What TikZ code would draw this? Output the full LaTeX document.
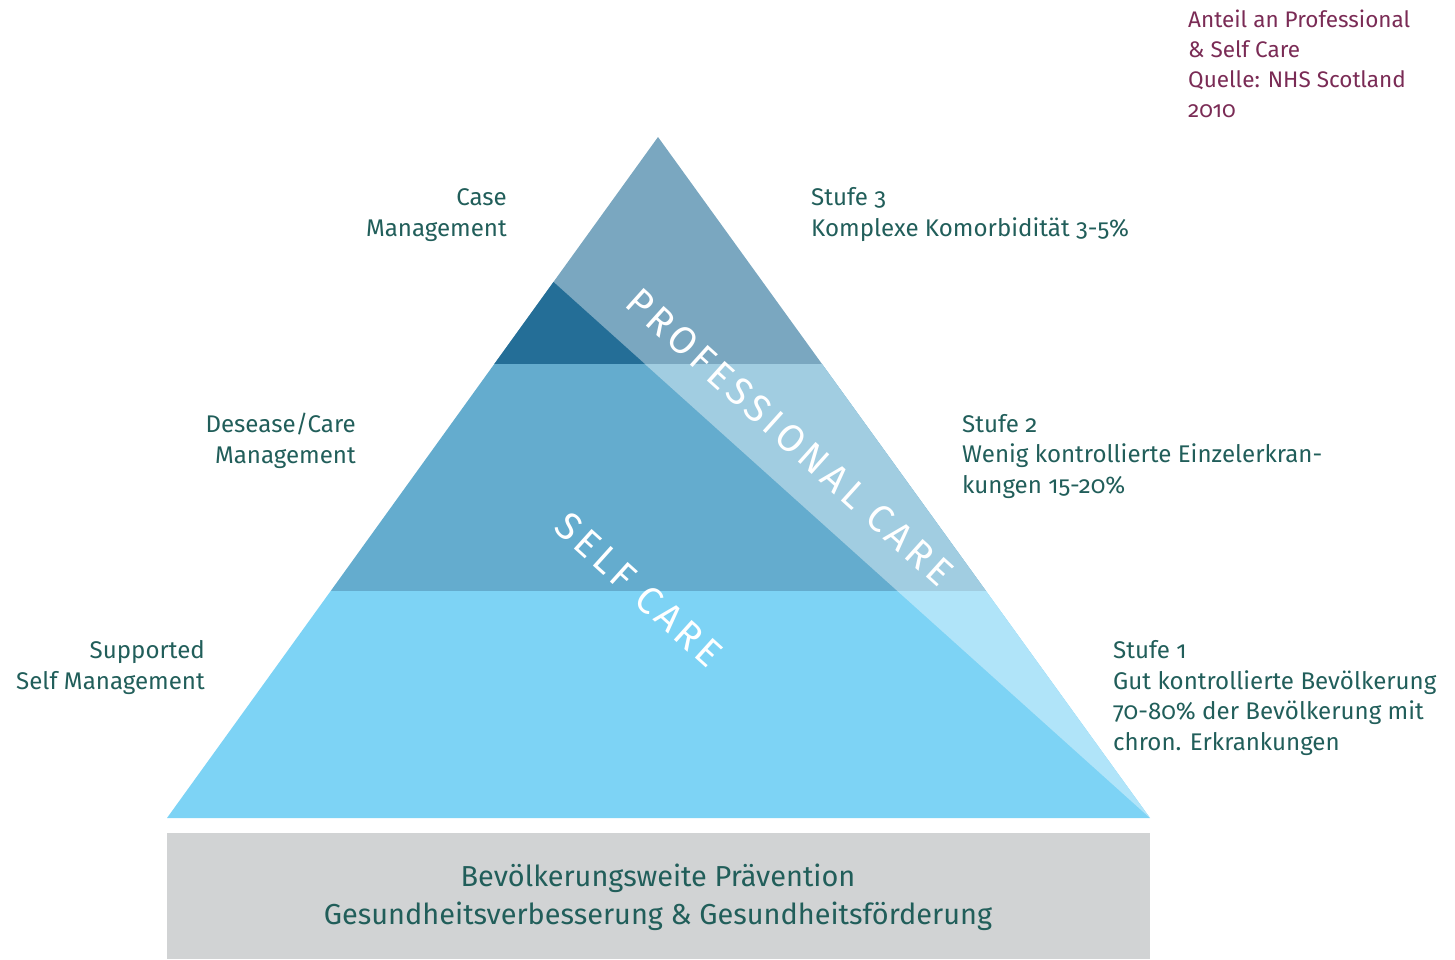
\documentclass[tikz,border=0pt]{standalone}
\usepackage{fontspec}
\setmainfont{Fira Sans}[Numbers=OldStyle]
\definecolor{txtteal}{HTML}{215E5A}
\definecolor{txtmaroon}{HTML}{7A2B55}
\definecolor{topprof}{HTML}{7AA7C0}
\definecolor{topself}{HTML}{246E97}
\definecolor{midself}{HTML}{64ACCE}
\definecolor{midprof}{HTML}{A1CDE1}
\definecolor{botself}{HTML}{7DD3F5}
\definecolor{botprof}{HTML}{B0E4F9}
\definecolor{boxgrey}{HTML}{D1D3D4}
\begin{document}
\begin{tikzpicture}[x=1bp,y=-1bp,
  lbl/.style={font=\fontsize{24.2}{30.5}\selectfont, text=txtteal, inner sep=0pt},
  lblleft/.style={lbl, align=left, anchor=base west},
  lblright/.style={lbl, align=right, anchor=base east},
  notelbl/.style={font=\fontsize{22.6}{30}\selectfont, text=txtmaroon, inner sep=0pt, align=left, anchor=base west},
  boxlbl/.style={font=\fontsize{29}{38}\selectfont, text=txtteal, inner sep=0pt, align=center, anchor=base},
  diaglbl/.style={font=\fontsize{38.5}{38.5}\selectfont\addfontfeature{LetterSpace=12}, text=white, inner sep=0pt, rotate=-42, anchor=center}
]
\useasboundingbox (0,0) rectangle (1455,959);
% key points
\coordinate (A) at (658,137);
\coordinate (BL) at (167,818);
\coordinate (BR) at (1150,818);
\coordinate (L1) at (494.3,364);
\coordinate (R1) at (822.0,364);
\coordinate (L2) at (330.7,591);
\coordinate (R2) at (986.0,591);
\coordinate (D0) at (553.5,282);
\coordinate (D1) at (644.8,364);
\coordinate (D2) at (897.4,591);
% top band
\fill[topprof] (A) -- (L1) -- (R1) -- cycle;
\fill[topself] (D0) -- (L1) -- (D1) -- cycle;
% middle band
\fill[midself] (L1) -- (R1) -- (R2) -- (L2) -- cycle;
\fill[midprof] (D1) -- (R1) -- (R2) -- (D2) -- cycle;
% bottom band
\fill[botself] (L2) -- (R2) -- (BR) -- (BL) -- cycle;
\fill[botprof] (D2) -- (R2) -- (BR) -- cycle;
% grey base
\fill[boxgrey] (167,833) rectangle (1150,959);
% diagonal labels
\node[diaglbl] (prof) at (790,437) {PROFESSIONAL CARE};
\node[diaglbl] (self) at (639,590) {SELF CARE};
% labels (anchor = baseline of last line)
\node[notelbl] (note) at (1188,117) {Anteil an Professional\\\& Self Care\\Quelle: NHS Scotland\\2010};
\node[lblright] (case) at (507,236) {Case\\Management};
\node[lblleft] (st3) at (811,236) {Stufe 3\\Komplexe Komorbidität 3-5\%};
\node[lblright] (dis) at (356,463) {Desease/Care\\Management};
\node[lblleft] (st2) at (962,493) {Stufe 2\\Wenig kontrollierte Einzelerkran-\\kungen 15-20\%};
\node[lblright] (sup) at (205,689) {Supported\\Self Management};
\node[lblleft] (st1) at (1113,750) {Stufe 1\\Gut kontrollierte Bevölkerung\\70-80\% der Bevölkerung mit\\chron. Erkrankungen};
\node[boxlbl] (prev) at (658,924) {Bevölkerungsweite Prävention\\Gesundheitsverbesserung \& Gesundheitsförderung};
\end{tikzpicture}
\end{document}
